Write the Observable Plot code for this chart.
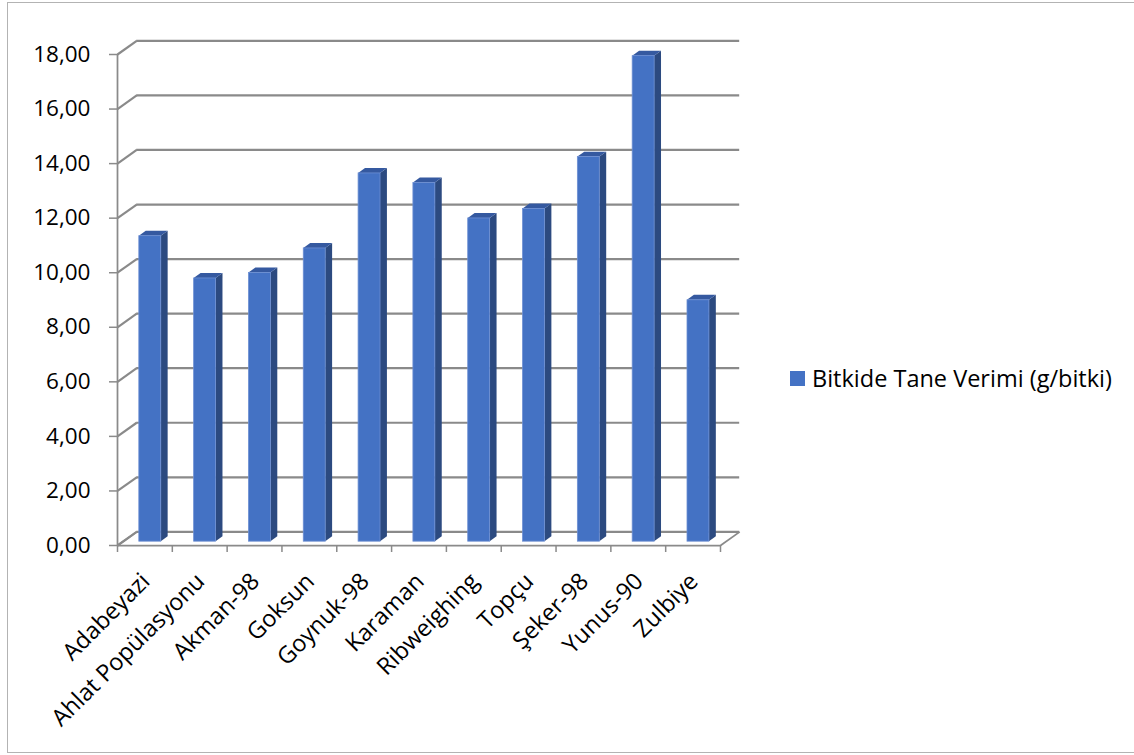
<!DOCTYPE html>
<html>
<head>
<meta charset="utf-8">
<script src="https://cdn.jsdelivr.net/npm/d3@7"></script>
<script src="https://cdn.jsdelivr.net/npm/@observablehq/plot@0.6"></script>
<style>
  html, body { margin: 0; padding: 0; background: #fff; overflow: hidden; }
  body { width: 1134px; height: 755px; position: relative; font-family: "Open Sans", sans-serif; }
  #frame { position: absolute; left: 7px; top: 2px; width: 1140px; height: 751px;
           border: 1.5px solid #b3b3b3; box-sizing: border-box; }
  #chart { position: absolute; left: 0; top: 0; }
  #legend { position: absolute; left: 790px; top: 362px; display: flex; align-items: center;
            font-size: 23.5px; color: #000; white-space: nowrap; }
  #legend .swatch { width: 15px; height: 15px; background: #4472C4; margin-right: 7px; }
</style>
</head>
<body>
<div id="frame"></div>
<div id="chart"></div>
<div id="legend"><span class="swatch"></span><span id="legend-label"></span></div>
<script>
// Grain yield per plant for each variety
const categories = ["Adabeyazi", "Ahlat Popülasyonu", "Akman-98", "Goksun", "Goynuk-98",
  "Karaman", "Ribweighing", "Topçu", "Şeker-98", "Yunus-90", "Zulbiye"];
const yields = [11.2, 9.65, 9.85, 10.75, 13.5, 13.15, 11.85, 12.2, 14.1, 17.8, 8.85];
const yTicks = [0, 2, 4, 6, 8, 10, 12, 14, 16, 18];
const seriesName = "Bitkide Tane Verimi (g/bitki)";

// Oblique depth of the 3D box (in x category units / y value units)
const DEPTH_X = 0.35, DEPTH_Y = 0.5;
// Bar footprint: half width, and front/back position within the depth
const HALF = 0.2, FRONT = 0.28, BACK = 0.64;

const rows = categories.map((c, i) => ({c, i, v: yields[i]}));
const n = categories.length;

// Side faces (right) and top faces as parallelograms
const sides = rows.flatMap(d => [FRONT, BACK].map(f => ({
  c: d.c, x: d.i + 0.5 + HALF + f * DEPTH_X, y1: f * DEPTH_Y, y2: d.v + f * DEPTH_Y
})));
const tops = rows.flatMap(d => [FRONT, BACK].map(f => ({
  c: d.c, y: d.v + f * DEPTH_Y,
  x1: d.i + 0.5 - HALF + f * DEPTH_X, x2: d.i + 0.5 + HALF + f * DEPTH_X
})));

const grid = "#8a8a8a";
const fmt = t => t.toFixed(2).replace(".", ",");

const chart = Plot.plot({
  width: 800,
  height: 755,
  marginLeft: 117,
  marginRight: 80,
  marginTop: 54,
  marginBottom: 210,
  style: {fontFamily: "Open Sans, sans-serif", fontSize: "22px", color: "#000", background: "transparent"},
  x: {domain: [0, n], axis: null},
  y: {domain: [0, 18], axis: null},
  marks: [
    // back wall gridlines
    Plot.ruleY(yTicks, {y: t => t + DEPTH_Y, x1: DEPTH_X, x2: n + DEPTH_X, stroke: grid, strokeWidth: 2.2}),
    // left wall connectors
    Plot.link(yTicks, {x1: 0, y1: t => t, x2: DEPTH_X, y2: t => t + DEPTH_Y, stroke: grid, strokeWidth: 2.2}),
    // floor edges
    Plot.link([0, n], {x1: d => d, y1: 0, x2: d => d + DEPTH_X, y2: DEPTH_Y, stroke: grid, strokeWidth: 1.75}),
    Plot.ruleY([0], {x1: 0, x2: n, stroke: grid, strokeWidth: 1.75}),
    Plot.ruleX([0], {y1: 0, y2: 18, stroke: grid, strokeWidth: 1.75}),
    // axis tick marks
    Plot.axisY({ticks: yTicks, tickSize: 8, tickPadding: 19, tickFormat: fmt, stroke: grid, strokeWidth: 1.5, fill: "#000", fontSize: 22.5}),
    Plot.axisX({ticks: d3.range(n + 1), tickSize: 7, tickFormat: () => "", stroke: grid, strokeWidth: 1.5}),
    // bars
    Plot.areaY(sides, {x: "x", y1: "y1", y2: "y2", z: "c", fill: "#2c4a80"}),
    Plot.areaX(tops, {y: "y", x1: "x1", x2: "x2", z: "c", fill: "#3559a0"}),
    Plot.rectY(rows, {
      x1: d => d.i + 0.5 - HALF + FRONT * DEPTH_X,
      x2: d => d.i + 0.5 + HALF + FRONT * DEPTH_X,
      y1: FRONT * DEPTH_Y,
      y2: d => d.v + FRONT * DEPTH_Y,
      fill: "#4472C4", stroke: "#6d8fd3", strokeWidth: 0.8
    }),
    // category labels
    Plot.text(rows, {
      x: d => d.i + 0.5, y: 0, text: "c", rotate: -45, textAnchor: "end", lineAnchor: "middle",
      dy: 32, dx: 1, fontSize: 23.5, fill: "#000"
    })
  ]
});
document.getElementById("chart").append(chart);
document.getElementById("legend-label").textContent = seriesName;
</script>
</body>
</html>
